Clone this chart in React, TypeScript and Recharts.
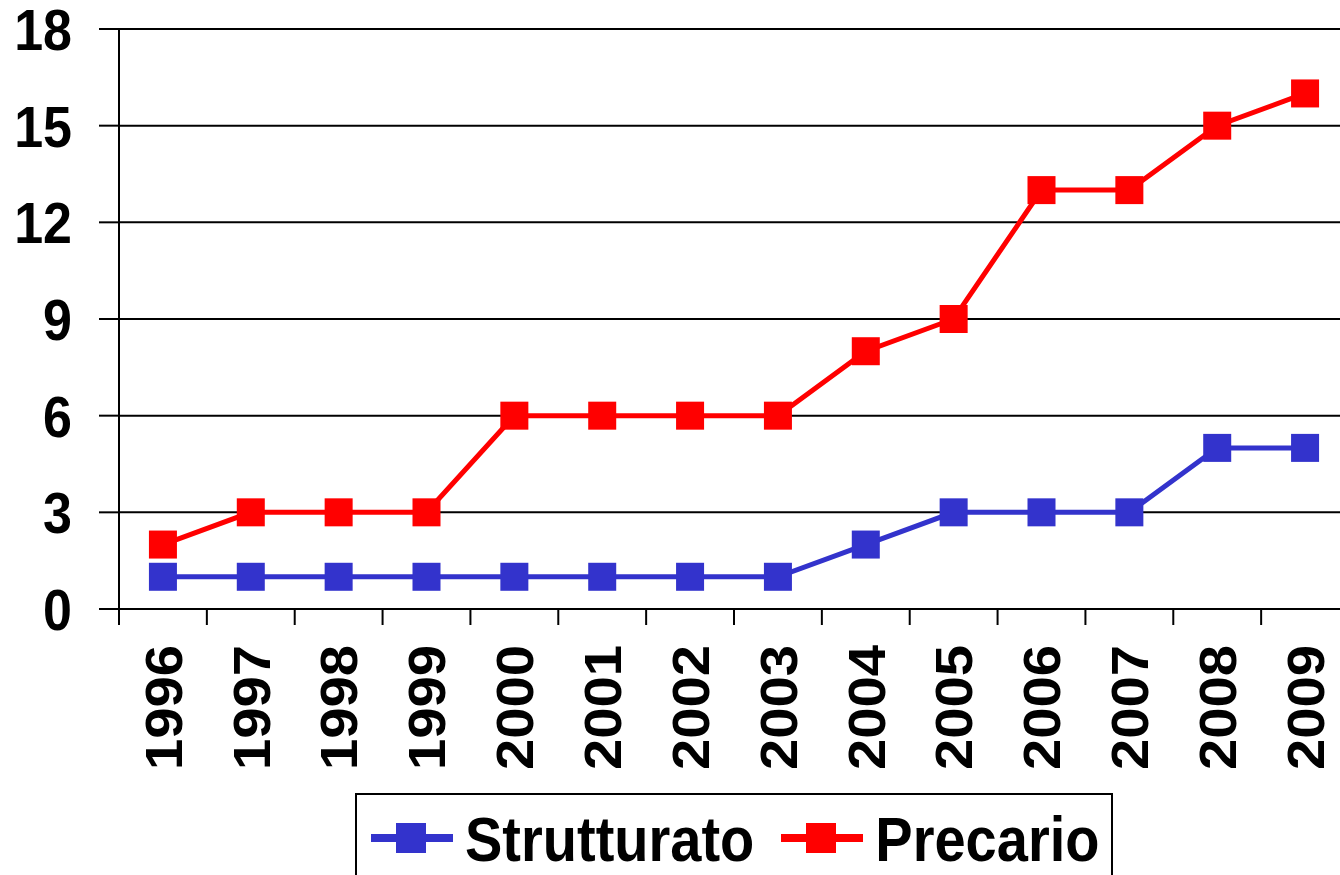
import React from 'react';
import { LineChart, Line, XAxis, YAxis, CartesianGrid, Legend } from 'recharts';

const years = ['1996', '1997', '1998', '1999', '2000', '2001', '2002', '2003', '2004', '2005', '2006', '2007', '2008', '2009'];
const strutturato = [1, 1, 1, 1, 1, 1, 1, 1, 2, 3, 3, 3, 5, 5];
const precario = [2, 3, 3, 3, 6, 6, 6, 6, 8, 9, 13, 13, 15, 16];
const yTicks = [0, 3, 6, 9, 12, 15, 18];

const data = years.map((year, i) => ({ year, strutturato: strutturato[i], precario: precario[i] }));

const BLUE = '#3333CC';
const RED = '#FF0000';
const FONT = '"Liberation Sans", Arial, sans-serif';

const CHART_W = 1360;
const CHART_H = 875;
const MARGIN = { top: 29, right: 11, left: 0, bottom: 0 };
const Y_W = 119;
const X_H = 266;
const BAND = (CHART_W - MARGIN.left - MARGIN.right - Y_W) / years.length;

const squareDot = (color: string) => (props: any) => {
    const { cx, cy, index } = props;
    return <rect key={`dot-${color}-${index}`} x={cx - 14} y={cy - 14} width={28} height={28} fill={color} />;
};

const YTick = (props: any) => {
    const { x, y, payload } = props;
    return (
        <g transform={`translate(${x},${y}) scale(1,1.12)`}>
            <text textAnchor="end" dy="0.36em" fontSize={52} fontWeight="bold" fontFamily={FONT} fill="#000">
                {payload.value}
            </text>
        </g>
    );
};

const XTick = (props: any) => {
    const { x, y, payload } = props;
    const axisY = y - 36;
    return (
        <g>
            <line x1={x - BAND / 2} x2={x - BAND / 2} y1={axisY} y2={axisY + 16} stroke="#000" strokeWidth={2} />
            <g transform={`translate(${x},${y}) scale(1,1.08) rotate(-90)`}>
                <text textAnchor="end" dy="0.36em" fontSize={52} fontWeight="bold" fontFamily={FONT} fill="#000">
                    {payload.value}
                </text>
            </g>
        </g>
    );
};

const LegendIcon = ({ color }: { color: string }) => (
    <svg width={82} height={32} style={{ display: 'block' }}>
        <line x1={0} x2={82} y1={16} y2={16} stroke={color} strokeWidth={8} />
        <rect x={25} y={1} width={30} height={30} fill={color} />
    </svg>
);

const LegendBox = () => (
    <div
        style={{
            boxSizing: 'border-box',
            width: '100%',
            height: '100%',
            border: '2px solid #000',
            display: 'flex',
            alignItems: 'center',
            paddingLeft: 14,
            fontFamily: FONT,
            fontWeight: 'bold',
            fontSize: 56,
            color: '#000',
        }}
    >
        <LegendIcon color={BLUE} />
        <span style={{ marginLeft: 12, display: 'inline-block', transform: 'scaleY(1.14)' }}>Strutturato</span>
        <span style={{ marginLeft: 27 }}>
            <LegendIcon color={RED} />
        </span>
        <span style={{ marginLeft: 12, display: 'inline-block', transform: 'scaleY(1.14)' }}>Precario</span>
    </div>
);

const App: React.FC = () => {
    return (
        <div style={{ position: 'absolute', left: 0, top: 0, width: 1340, height: 875, overflow: 'hidden', background: '#fff' }}>
            <LineChart width={CHART_W} height={CHART_H} data={data} margin={MARGIN}>
                <CartesianGrid vertical={false} stroke="#000" strokeWidth={2} />
                <XAxis
                    dataKey="year"
                    height={X_H}
                    interval={0}
                    padding={{ left: BAND / 2, right: BAND / 2 }}
                    tickSize={0}
                    tickMargin={36}
                    tickLine={false}
                    axisLine={{ stroke: '#000', strokeWidth: 2 }}
                    tick={<XTick />}
                />
                <YAxis
                    width={Y_W}
                    domain={[0, 18]}
                    ticks={yTicks}
                    interval={0}
                    tickSize={20}
                    tickMargin={27}
                    tickLine={{ stroke: '#000', strokeWidth: 2 }}
                    axisLine={{ stroke: '#000', strokeWidth: 2 }}
                    tick={<YTick />}
                />
                <Legend
                    verticalAlign="middle"
                    layout="horizontal"
                    content={() => <LegendBox />}
                    wrapperStyle={{ position: 'absolute', left: 355, top: 793, width: 758, height: 90 }}
                />
                <Line
                    type="linear"
                    dataKey="strutturato"
                    name="Strutturato"
                    stroke={BLUE}
                    strokeWidth={5}
                    dot={squareDot(BLUE)}
                    activeDot={false}
                    isAnimationActive={false}
                />
                <Line
                    type="linear"
                    dataKey="precario"
                    name="Precario"
                    stroke={RED}
                    strokeWidth={5}
                    dot={squareDot(RED)}
                    activeDot={false}
                    isAnimationActive={false}
                />
            </LineChart>
        </div>
    );
};

export default App;
